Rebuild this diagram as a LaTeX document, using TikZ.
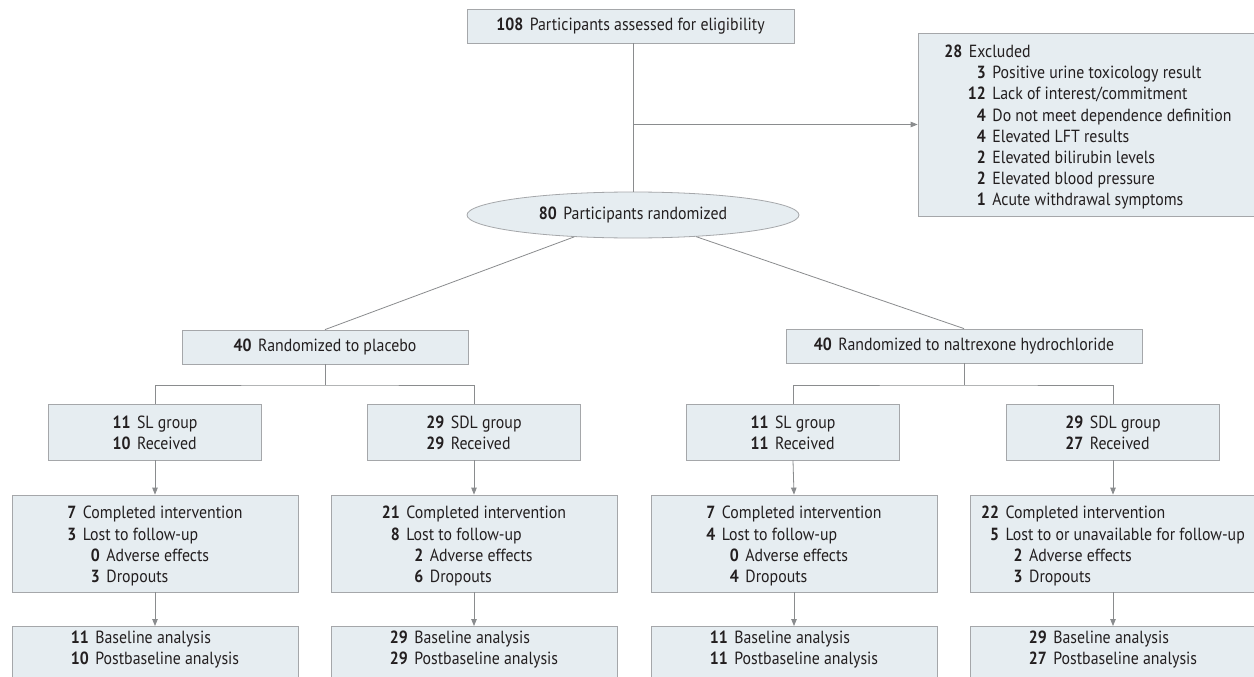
\documentclass[tikz,border=0pt]{standalone}
\usepackage{fontspec}
\setmainfont{PT Sans}[FakeStretch=0.9]
\usetikzlibrary{arrows.meta,shapes.geometric}
\definecolor{boxfill}{HTML}{E6EDF1}
\definecolor{boxline}{HTML}{A5A7AA}
\definecolor{connc}{HTML}{8A8C8E}
\definecolor{txt}{HTML}{231F20}
\newlength{\numgap}\setlength{\numgap}{6.5pt}
\newlength{\subind}\setlength{\subind}{17pt}
\newcommand{\mrow}[2]{\textbf{#1}&#2\\}
\newcommand{\srow}[2]{&\hspace*{\subind}\llap{\textbf{#1}}\hspace{\numgap}#2\\}
\newcommand{\blk}[1]{\raisebox{-3pt}[\height][\depth]{\begin{tabular}{@{}r@{\hspace{\numgap}}l@{}}#1\end{tabular}}}
\tikzset{
  box/.style={draw=boxline, fill=boxfill, line width=0.8pt, inner sep=0pt, align=center,
    font=\fontsize{17.6}{21.2}\selectfont, text=txt},
  plain/.style={inner sep=0pt, align=center, font=\fontsize{17.6}{21.2}\selectfont, text=txt},
  conn/.style={draw=connc, line width=0.8pt},
  arr/.style={conn, -{Triangle[length=7pt,width=5.5pt]}},
  grp/.style={box, minimum width=213pt, minimum height=56pt},
  cmp/.style={box, minimum width=286pt, minimum height=97pt},
  ana/.style={box, minimum width=286pt, minimum height=80pt, anchor=north},
}
\begin{document}
\begin{tikzpicture}[x=1pt,y=-1pt]
\useasboundingbox (0,0) rectangle (1254,677);
\fill[white] (0,0) rectangle (1254,677);
\clip (0,0) rectangle (1254,677);

\node[box, minimum width=327pt, minimum height=34pt] (top) at (630.5,26)
  {\textbf{108}\hspace{\numgap}Participants assessed for eligibility};
\node[box, minimum width=340pt, minimum height=183pt] (excl) at (1088,124.5)
  {\blk{\mrow{28}{Excluded}\srow{3}{Positive urine toxicology result}\srow{12}{Lack of interest/commitment}\srow{4}{Do not meet dependence definition}\srow{4}{Elevated LFT results}\srow{2}{Elevated bilirubin levels}\srow{2}{Elevated blood pressure}\srow{1}{Acute withdrawal symptoms}}};
\node[ellipse, draw=boxline, fill=boxfill, line width=0.8pt, inner sep=0pt,
  minimum width=332pt, minimum height=46pt, font=\fontsize{17.6}{21.2}\selectfont, text=txt]
  (rand) at (633,215) {\textbf{80}\hspace{\numgap}Participants randomized};

\node[box, minimum width=286pt, minimum height=34pt] (plac) at (325,347)
  {\textbf{40}\hspace{\numgap}Randomized to placebo};
\node[box, minimum width=356pt, minimum height=34pt] (nalt) at (964,346)
  {\textbf{40}\hspace{\numgap}Randomized to naltrexone hydrochloride};

\node[grp] (g1) at (155,432) {\blk{\mrow{11}{SL group}\mrow{10}{Received}}};
\node[grp] (g2) at (474,432) {\blk{\mrow{29}{SDL group}\mrow{29}{Received}}};
\node[grp] (g3) at (793,432) {\blk{\mrow{11}{SL group}\mrow{11}{Received}}};
\node[grp] (g4) at (1113,432) {\blk{\mrow{29}{SDL group}\mrow{27}{Received}}};

\node[cmp] (c1) at (155,543.5) {\blk{\mrow{7}{Completed intervention}\mrow{3}{Lost to follow-up}\srow{0}{Adverse effects}\srow{3}{Dropouts}}};
\node[cmp] (c2) at (474,543.5) {\blk{\mrow{21}{Completed intervention}\mrow{8}{Lost to follow-up}\srow{2}{Adverse effects}\srow{6}{Dropouts}}};
\node[cmp] (c3) at (794,543.5) {\blk{\mrow{7}{Completed intervention}\mrow{4}{Lost to follow-up}\srow{0}{Adverse effects}\srow{4}{Dropouts}}};
\node[cmp] (c4) at (1113,543.5) {\blk{\mrow{22}{Completed intervention}\mrow{5}{Lost to or unavailable for follow-up}\srow{2}{Adverse effects}\srow{3}{Dropouts}}};

\node[ana] (b1) at (155,626) {};
\node[ana] (b2) at (474,626) {};
\node[ana] (b3) at (794,626) {};
\node[ana] (b4) at (1113,626) {};
\node[plain] (t1) at (155,647) {\blk{\mrow{11}{Baseline analysis}\mrow{10}{Postbaseline analysis}}};
\node[plain] (t2) at (474,647) {\blk{\mrow{29}{Baseline analysis}\mrow{29}{Postbaseline analysis}}};
\node[plain] (t3) at (794,647) {\blk{\mrow{11}{Baseline analysis}\mrow{11}{Postbaseline analysis}}};
\node[plain] (t4) at (1113,647) {\blk{\mrow{29}{Baseline analysis}\mrow{27}{Postbaseline analysis}}};

\draw[conn] (top.south -| rand.north) -- (rand.north);
\draw[arr] (rand.north |- excl.west) -- (excl.west);
\draw[conn] (rand) -- (plac.north);
\draw[conn] (rand) -- (nalt.north);

\coordinate (lb) at (325,385);
\coordinate (rb) at (964,385);
\draw[conn] (plac.south) -- (lb);
\draw[conn] (g1.north) |- (lb) -| (g2.north);
\draw[conn] (nalt.south) -- (rb);
\draw[conn] (g3.north) |- (rb) -| (g4.north);

\foreach \i in {1,2,3,4}{
  \draw[arr] (g\i.south) -- (c\i.north);
  \draw[arr] (c\i.south) -- (b\i.north);
}
\end{tikzpicture}
\end{document}
